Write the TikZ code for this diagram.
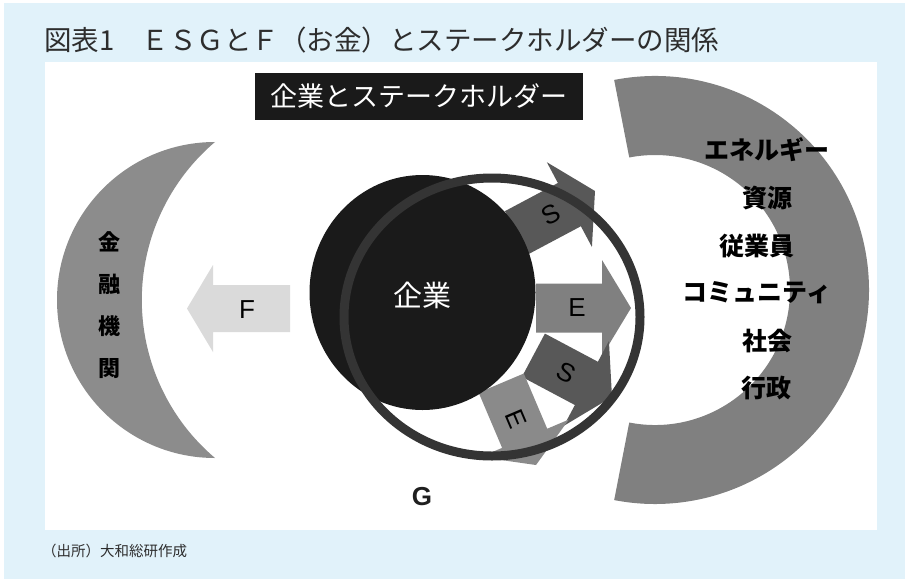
\documentclass[tikz,border=0pt]{standalone}
\usepackage{fontspec}
\setmainfont{Liberation Sans}
\newfontfamily\jp{Noto Sans CJK JP}
\usetikzlibrary{calc}
\definecolor{bgblue}{RGB}{225,242,250}
\definecolor{crescL}{RGB}{140,140,140}
\definecolor{crescR}{RGB}{128,128,128}
\definecolor{arrS}{RGB}{88,88,88}
\definecolor{arrE}{RGB}{128,128,128}
\definecolor{arrF}{RGB}{218,218,218}
\definecolor{coreblack}{RGB}{26,26,26}
\definecolor{ringgray}{RGB}{52,52,52}
\definecolor{titlegray}{RGB}{45,45,45}
\newcommand\bigarrowshape[1]{(-#1,-24.5) -- (-29,-24.5) -- (-29,-48) -- (0,0) -- (-29,48) -- (-29,24.5) -- (-#1,24.5) -- cycle}
\begin{document}
\begin{tikzpicture}[x=1pt,y=-1pt,
  rlabel/.style={font=\jp\bfseries\fontsize{25}{29}\selectfont, text=black, inner sep=0},
  letter/.style={font=\fontsize{26}{30}\selectfont, text=black, inner sep=0, transform shape},
]
\useasboundingbox (0,0) rectangle (905,579);
\fill[white] (0,0) rectangle (905,579);
\fill[bgblue] (4,3) rectangle (905,579);
\fill[white] (45,62) rectangle (877,530);

% title and source
\node[anchor=west, font=\jp\fontsize{27.5}{31}\selectfont, text=titlegray, inner sep=0] (title) at (44,40) {図表1　ＥＳＧとＦ（お金）とステークホルダーの関係};
\node[anchor=west, font=\jp\fontsize{14.5}{17}\selectfont, text=titlegray, inner sep=0] (src) at (42,551) {（出所）大和総研作成};

% left crescent
\fill[crescL] (215,142) arc[start angle=-90, end angle=-270, radius=158]
  arc[start angle=130.3, end angle=229.7, radius=207.2] -- cycle;
\node[font=\jp\bfseries\fontsize{22}{42}\selectfont, align=center, inner sep=0] (fin) at (109,305) {金\\融\\機\\関};

% right crescent
\fill[crescR, shift={(655,290)}] (-101:214) arc[start angle=-101, end angle=101, radius=214]
  -- (101:135) arc[start angle=101, end angle=-101, radius=135] -- cycle;
\node[rlabel] (r1) at (767,150) {エネルギー};
\node[rlabel] (r2) at (767,198) {資源};
\node[rlabel] (r3) at (757,246) {従業員};
\node[rlabel] (r4) at (757,293) {コミュニティ};
\node[rlabel] (r5) at (767,341) {社会};
\node[rlabel] (r6) at (766,388) {行政};

% header box
\node[fill=coreblack, text=white, minimum width=328pt, minimum height=47pt, inner sep=0,
  font=\jp\fontsize{27}{30}\selectfont] (hdr) at (419,96.5) {企業とステークホルダー};

% F arrow
\fill[arrF] (290,285) -- (213,285) -- (213,265) -- (187,308.5) -- (213,352) -- (213,332) -- (290,332) -- cycle;
\node[letter] (F) at (247,310) {F};

% ESG arrows
\begin{scope}[shift={(595,191)}, rotate=28]
  \fill[arrS] \bigarrowshape{89};
  \node[letter] (s1) at (-50,0) {S};
\end{scope}
\begin{scope}[shift={(631,308)}]
  \fill[arrE] \bigarrowshape{95};
  \node[letter] (e1) at (-54,0) {E};
\end{scope}
\begin{scope}[shift={(612,397)}, rotate=-28]
  \fill[arrS] \bigarrowshape{89};
  \node[letter] (s2) at (-52,0) {S};
\end{scope}
\begin{scope}[shift={(536,465)}, rotate=-67]
  \fill[arrE!92!white] \bigarrowshape{89};
  \node[letter] (e2) at (-50,0) {E};
\end{scope}

% company core and ring
\fill[coreblack] (422.5,292.5) ellipse [x radius=113, y radius=117.5];
\node[font=\jp\fontsize{29}{33}\selectfont, text=white, inner sep=0] (core) at (422,295) {企業};
\draw[ringgray, line width=9pt] (492,317) ellipse [x radius=148, y radius=139];
\node[font=\bfseries\fontsize{26}{30}\selectfont, text=black!88, inner sep=0] (g) at (422,497) {G};
\end{tikzpicture}
\end{document}
